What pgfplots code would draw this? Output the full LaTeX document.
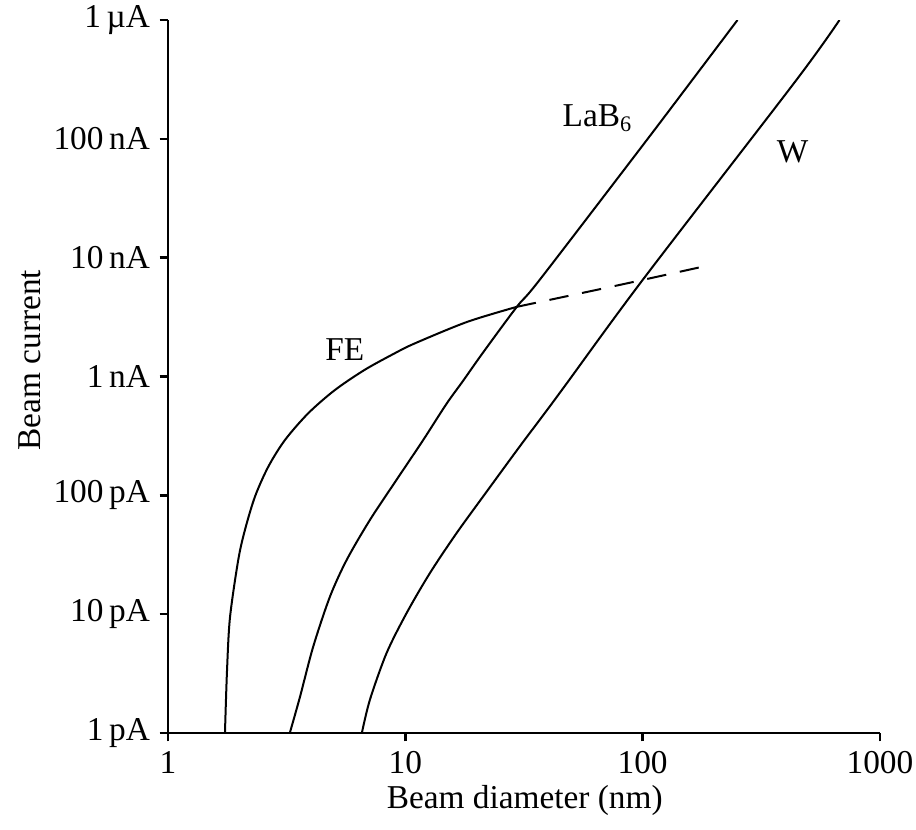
\documentclass[border=0pt]{standalone}
\usepackage{fontspec}
\setmainfont{Liberation Serif}
\usepackage{pgfplots}
\pgfplotsset{compat=1.18}
\begin{document}
\begin{tikzpicture}[font=\fontsize{12}{14.4}\selectfont]
\begin{loglogaxis}[
  scale only axis,
  width=256.32pt, height=256.68pt,
  xmin=1, xmax=1000, ymin=1e-12, ymax=1e-6,
  axis lines*=left,
  axis line style={-, line width=0.9pt},
  tick align=outside,
  major tick length=3pt,
  every tick/.style={black, line width=0.9pt},
  xminorticks=false, yminorticks=false,
  xtick={1,10,100,1000},
  xticklabels={1,10,100,1000},
  ytick={1e-12,1e-11,1e-10,1e-9,1e-8,1e-7,1e-6},
  yticklabels={1\,pA,10\,pA,100\,pA,1\,nA,10\,nA,100\,nA,1\,µA},
  tick label style={font=\fontsize{12}{14.4}\selectfont},
  xlabel={Beam diameter (nm)},
  ylabel={Beam current},
  label style={font=\fontsize{12}{14.4}\selectfont},
  xlabel style={at={(axis description cs:0.501,-0.094)}, anchor=center},
  ylabel style={at={(axis description cs:-0.194,0.523)}, anchor=center},
]
% FE (solid)
\addplot[black, line width=0.72pt, smooth] coordinates {
  (1.738,1e-12) (1.772,3.26e-12) (1.824,9.3e-12) (1.977,2.86e-11)
  (2.11,5.12e-11) (2.325,9.75e-11) (2.645,1.74e-10) (3.11,2.92e-10)
  (3.90,4.91e-10) (5.05,7.7e-10) (6.75,1.14e-9) (9.03,1.57e-9)
  (10.96,1.9e-9) (18.2,2.88e-9) (29.5,3.86e-9)
};
% FE (dashed continuation)
\addplot[black, line width=0.72pt, smooth, dash pattern=on 7pt off 5pt] coordinates {
  (29.5,3.86e-9) (64,5.36e-9) (100,6.5e-9) (179,8.4e-9)
};
% LaB6
\addplot[black, line width=0.72pt, smooth] coordinates {
  (3.26,1e-12) (3.60,2.02e-12) (4.09,5.32e-12) (4.81,1.40e-11)
  (5.66,2.86e-11) (7.09,6.2e-11) (9.18,1.35e-10) (11.89,2.92e-10)
  (14.9,5.88e-10) (17.5,9.18e-10) (21.2,1.58e-9) (29.5,3.86e-9)
  (36.8,6.5e-9) (100,8.8e-8) (162,3.14e-7) (251,1e-6)
};
% W
\addplot[black, line width=0.72pt, smooth] coordinates {
  (6.56,1e-12) (7.09,1.9e-12) (8.33,4.69e-12) (10.12,1.02e-11)
  (12.68,2.21e-11) (16.43,4.8e-11) (21.98,1.07e-10) (30.3,2.57e-10)
  (39.3,5.13e-10) (47.7,8.67e-10) (100,6.5e-9) (445,3.14e-7) (675,1e-6)
};
\node at (axis cs:64.6,1.5e-7) {LaB\textsubscript{6}};
\node at (axis cs:428,7.8e-8) {W};
\node at (axis cs:5.56,1.67e-9) {FE};
\end{loglogaxis}
\pgfresetboundingbox
\useasboundingbox (-60.48pt,-34.56pt) rectangle (269.28pt,263.88pt);
\end{tikzpicture}
\end{document}
